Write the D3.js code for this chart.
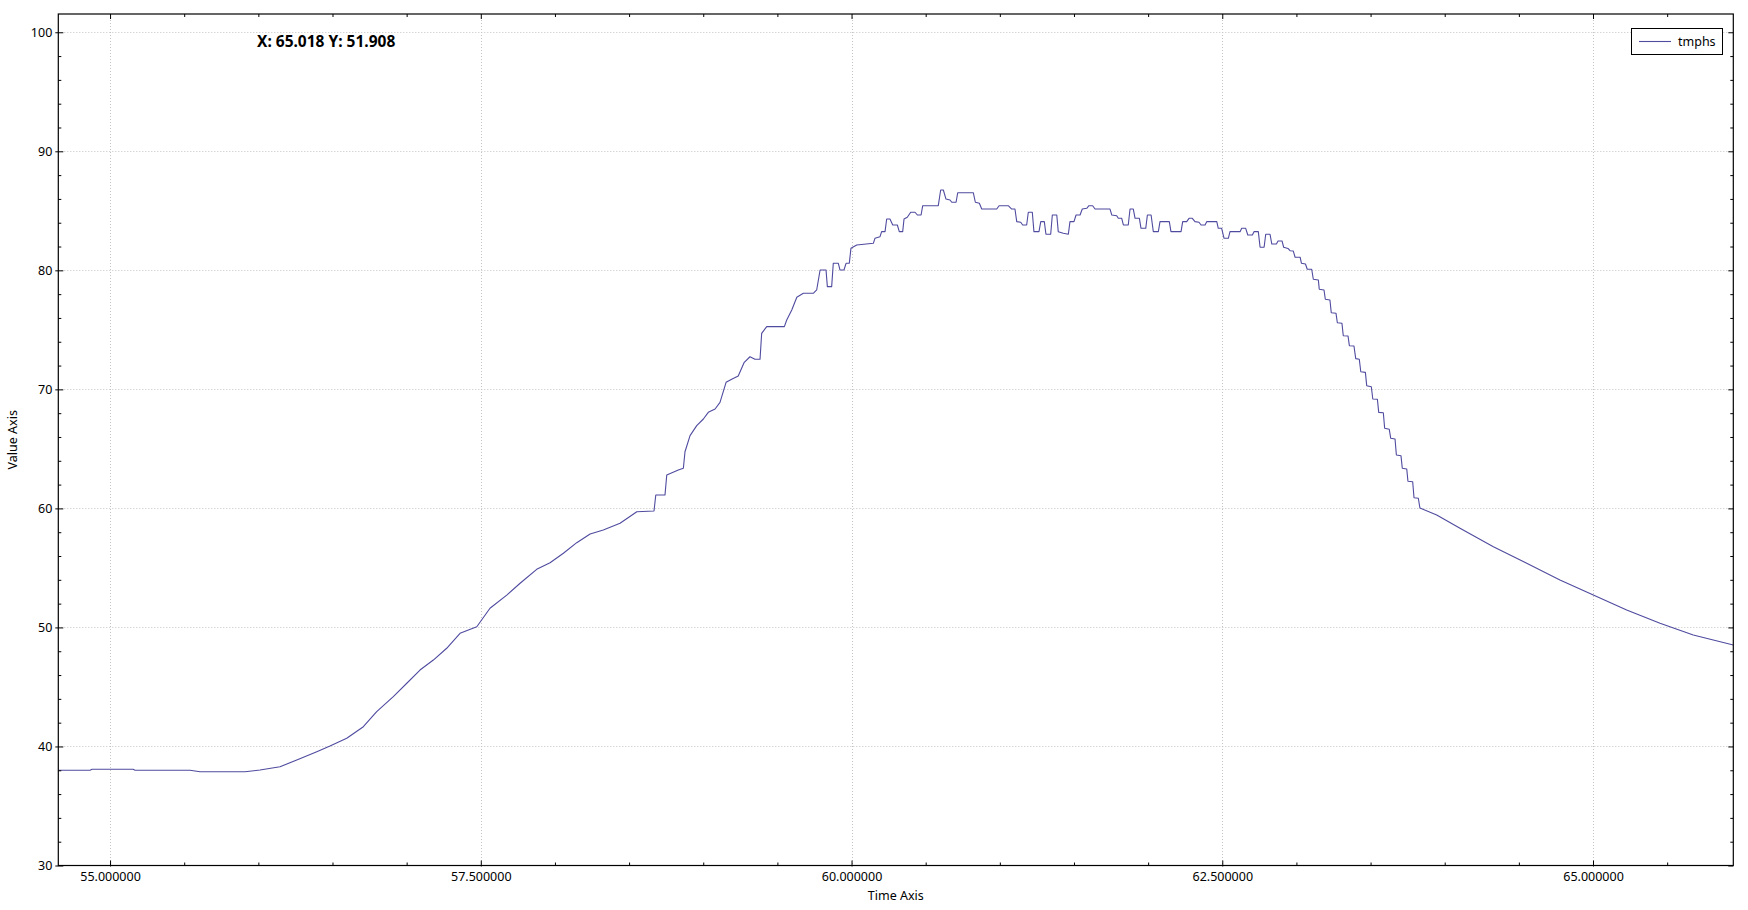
<!DOCTYPE html>
<html>
<head>
<meta charset="utf-8">
<script src="https://cdn.jsdelivr.net/npm/d3@7/dist/d3.min.js"></script>
<style>
  html, body { margin: 0; padding: 0; background: #ffffff; }
  svg { display: block; }
  text { font-family: "Noto Sans", "Open Sans", sans-serif; fill: #000; }
</style>
</head>
<body>
<svg id="chart" width="1748" height="910"></svg>
<script>
// ---- data ----
const seriesName = "tmphs";
const times = [
  54.651, 54.865, 54.879, 55.155, 55.169, 55.539, 55.607, 55.910, 56.011, 56.146,
  56.259, 56.394, 56.483, 56.596, 56.708, 56.798, 56.910, 57.001, 57.090, 57.180,
  57.270, 57.360, 57.473, 57.562, 57.675, 57.765, 57.877, 57.967, 58.057, 58.147,
  58.237, 58.326, 58.439, 58.552, 58.668, 58.680, 58.742, 58.754, 58.832, 58.866,
  58.877, 58.911, 58.956, 59.001, 59.034, 59.080, 59.113, 59.154, 59.192, 59.236,
  59.275, 59.315, 59.349, 59.383, 59.394, 59.428, 59.547, 59.563, 59.597, 59.631,
  59.675, 59.742, 59.765, 59.788, 59.828, 59.837, 59.866, 59.877, 59.911, 59.922,
  59.949, 59.963, 59.985, 59.996, 60.035, 60.147, 60.158, 60.192, 60.203, 60.226,
  60.237, 60.259, 60.278, 60.309, 60.322, 60.345, 60.354, 60.376, 60.399, 60.428,
  60.444, 60.469, 60.480, 60.585, 60.601, 60.619, 60.637, 60.664, 60.676, 60.705,
  60.716, 60.821, 60.835, 60.862, 60.878, 60.979, 60.995, 61.057, 61.080, 61.102,
  61.114, 61.141, 61.154, 61.181, 61.192, 61.219, 61.230, 61.264, 61.276, 61.300,
  61.311, 61.343, 61.354, 61.384, 61.394, 61.428, 61.462, 61.473, 61.500, 61.514,
  61.541, 61.556, 61.586, 61.601, 61.626, 61.642, 61.743, 61.755, 61.788, 61.799,
  61.822, 61.833, 61.866, 61.878, 61.900, 61.912, 61.941, 61.952, 61.984, 61.995,
  62.020, 62.035, 62.069, 62.080, 62.143, 62.154, 62.222, 62.233, 62.260, 62.276,
  62.298, 62.316, 62.343, 62.357, 62.384, 62.395, 62.463, 62.473, 62.496, 62.512,
  62.541, 62.552, 62.620, 62.631, 62.658, 62.672, 62.703, 62.714, 62.743, 62.755,
  62.782, 62.793, 62.822, 62.834, 62.865, 62.876, 62.903, 62.914, 62.943, 62.957,
  62.979, 62.991, 63.025, 63.034, 63.061, 63.073, 63.103, 63.114, 63.148, 63.154,
  63.186, 63.195, 63.226, 63.235, 63.267, 63.276, 63.307, 63.316, 63.348, 63.357,
  63.388, 63.400, 63.424, 63.434, 63.465, 63.474, 63.505, 63.515, 63.546, 63.555,
  63.586, 63.595, 63.626, 63.636, 63.665, 63.674, 63.705, 63.714, 63.744, 63.752,
  63.784, 63.793, 63.822, 63.833, 63.946, 64.103, 64.328, 64.553, 64.777, 65.002,
  65.227, 65.452, 65.676, 65.946
];
const values = [
  38.00, 38.00, 38.08, 38.08, 38.00, 38.00, 37.88, 37.88, 38.02, 38.30,
  38.86, 39.56, 40.04, 40.69, 41.66, 42.92, 44.18, 45.31, 46.42, 47.26,
  48.25, 49.51, 50.06, 51.61, 52.72, 53.71, 54.88, 55.44, 56.23, 57.12,
  57.85, 58.19, 58.75, 59.72, 59.78, 61.13, 61.13, 62.81, 63.23, 63.37,
  64.76, 66.11, 66.95, 67.51, 68.07, 68.35, 68.91, 70.59, 70.85, 71.12,
  72.24, 72.74, 72.53, 72.53, 74.71, 75.27, 75.27, 75.83, 76.67, 77.74,
  78.07, 78.07, 78.35, 80.03, 80.03, 78.63, 78.63, 80.59, 80.59, 80.03,
  80.03, 80.59, 80.59, 81.85, 82.13, 82.27, 82.69, 82.83, 83.25, 83.25,
  84.31, 84.31, 83.81, 83.81, 83.25, 83.25, 84.31, 84.46, 84.88, 84.88,
  84.65, 84.65, 85.43, 85.43, 86.75, 86.75, 85.99, 85.91, 85.72, 85.72,
  86.52, 86.52, 85.72, 85.63, 85.15, 85.15, 85.43, 85.43, 85.15, 85.15,
  84.09, 84.04, 83.81, 83.81, 84.88, 84.88, 83.25, 83.25, 84.09, 84.09,
  83.03, 83.03, 84.65, 84.65, 83.25, 83.11, 83.03, 84.09, 84.09, 84.65,
  84.65, 85.15, 85.21, 85.43, 85.43, 85.15, 85.15, 84.65, 84.59, 84.37,
  84.37, 83.81, 83.81, 85.15, 85.15, 84.37, 84.37, 83.53, 83.53, 84.65,
  84.65, 83.25, 83.25, 84.09, 84.09, 83.25, 83.25, 84.09, 84.09, 84.37,
  84.37, 84.09, 84.04, 83.81, 83.81, 84.09, 84.09, 83.53, 83.53, 82.69,
  82.69, 83.25, 83.25, 83.53, 83.53, 82.97, 82.97, 83.25, 83.25, 81.94,
  81.94, 83.03, 83.03, 82.21, 82.21, 82.47, 82.47, 81.94, 81.84, 81.65,
  81.62, 81.10, 81.10, 80.59, 80.53, 80.09, 80.09, 79.25, 79.19, 78.41,
  78.35, 77.57, 77.51, 76.44, 76.39, 75.60, 75.55, 74.51, 74.48, 73.67,
  73.64, 72.58, 72.53, 71.48, 71.43, 70.31, 70.22, 69.19, 69.17, 68.07,
  68.04, 66.73, 66.65, 65.89, 65.83, 64.49, 64.43, 63.37, 63.31, 62.28,
  62.24, 60.90, 60.85, 60.03, 59.45, 58.33, 56.78, 55.39, 53.99, 52.73,
  51.47, 50.35, 49.36, 48.52
];
const xDomain = [54.651, 65.946];
const yDomain = [30, 101.535];
const xMajorTicks = [55, 57.5, 60, 62.5, 65];
const yMajorTicks = [30, 40, 50, 60, 70, 80, 90, 100];
const xMinorStep = 0.5;
const yMinorStep = 2;
const xTitle = "Time Axis";
const yTitle = "Value Axis";
const cursorText = "X: 65.018 Y: 51.908";

// ---- layout ----
const svg = d3.select("#chart");
const L = 58.3, R = 1733.3, T = 14, B = 865.5;
const x = d3.scaleLinear().domain(xDomain).range([L, R]);
const y = d3.scaleLinear().domain(yDomain).range([B, T]);
const lineColor = "#4f4b9f";

const xMinor = d3.range(Math.ceil(xDomain[0] / xMinorStep) * xMinorStep, xDomain[1] + 1e-9, xMinorStep)
  .filter(v => !xMajorTicks.some(m => Math.abs(m - v) < 1e-9));
const yMinor = d3.range(Math.ceil(yDomain[0] / yMinorStep) * yMinorStep, yDomain[1] + 1e-9, yMinorStep)
  .filter(v => !yMajorTicks.some(m => Math.abs(m - v) < 1e-9));

// grid
const grid = svg.append("g");
grid.selectAll("line.gx").data(xMajorTicks).enter().append("line")
  .attr("x1", d => Math.round(x(d)) + 0.5).attr("x2", d => Math.round(x(d)) + 0.5)
  .attr("y1", T).attr("y2", B)
  .attr("stroke", "#c4c4c4").attr("stroke-width", 1).attr("stroke-dasharray", "1,2");
grid.selectAll("line.gy").data(yMajorTicks.filter(v => v > yDomain[0])).enter().append("line")
  .attr("x1", L).attr("x2", R)
  .attr("y1", d => Math.round(y(d)) + 0.5).attr("y2", d => Math.round(y(d)) + 0.5)
  .attr("stroke", "#c4c4c4").attr("stroke-width", 1).attr("stroke-dasharray", "1,2");

// clip
svg.append("clipPath").attr("id", "clip").append("rect")
  .attr("x", L).attr("y", T).attr("width", R - L).attr("height", B - T);

// series line
const pts = times.map((t, i) => [t, values[i]]);
svg.append("path")
  .datum(pts)
  .attr("clip-path", "url(#clip)")
  .attr("fill", "none")
  .attr("stroke", lineColor)
  .attr("stroke-width", 1.1)
  .attr("stroke-linejoin", "round")
  .attr("d", d3.line().x(d => x(d[0])).y(d => y(d[1])).curve(d3.curveLinear));

// axes using d3 axis generators
const fontFam = '"Noto Sans", "Open Sans", sans-serif';
function styleAxis(g) {
  g.select(".domain").remove();
  g.selectAll("line").attr("stroke", "#000");
  g.selectAll("text").attr("font-family", fontFam).attr("font-size", 12.5).attr("fill", "#000");
}

// bottom major (labels) - ticks inward and slightly outward
const xAxisB = svg.append("g").attr("transform", `translate(0,${B})`)
  .call(d3.axisBottom(x).tickValues(xMajorTicks).tickSize(0).tickPadding(7).tickFormat(d3.format(".6f")));
styleAxis(xAxisB);
xAxisB.selectAll(".tick").append("line").attr("y1", -5).attr("y2", 1).attr("stroke", "#000");
svg.append("g").attr("transform", `translate(0,${B})`)
  .call(d3.axisTop(x).tickValues(xMinor).tickSize(3).tickFormat(""))
  .call(styleAxis);

// top ticks (inward)
svg.append("g").attr("transform", `translate(0,${T})`)
  .call(d3.axisBottom(x).tickValues(xMajorTicks).tickSize(5).tickFormat(""))
  .call(styleAxis);
svg.append("g").attr("transform", `translate(0,${T})`)
  .call(d3.axisBottom(x).tickValues(xMinor).tickSize(3).tickFormat(""))
  .call(styleAxis);

// left major (labels)
const yAxisL = svg.append("g").attr("transform", `translate(${L},0)`)
  .call(d3.axisLeft(y).tickValues(yMajorTicks).tickSize(0).tickPadding(6).tickFormat(d3.format("d")));
styleAxis(yAxisL);
yAxisL.selectAll(".tick").append("line").attr("x1", -3).attr("x2", 5).attr("stroke", "#000");
svg.append("g").attr("transform", `translate(${L},0)`)
  .call(d3.axisRight(y).tickValues(yMinor).tickSize(3).tickFormat(""))
  .call(styleAxis);

// right ticks (inward)
svg.append("g").attr("transform", `translate(${R},0)`)
  .call(d3.axisLeft(y).tickValues(yMajorTicks).tickSize(5).tickFormat(""))
  .call(styleAxis);
svg.append("g").attr("transform", `translate(${R},0)`)
  .call(d3.axisLeft(y).tickValues(yMinor).tickSize(3).tickFormat(""))
  .call(styleAxis);

// frame
svg.append("rect").attr("x", L).attr("y", T).attr("width", R - L).attr("height", B - T)
  .attr("fill", "none").attr("stroke", "#000").attr("stroke-width", 1.2);

// axis titles
svg.append("text").attr("x", (L + R) / 2).attr("y", 900)
  .attr("text-anchor", "middle").attr("font-size", 12.5).text(xTitle);
svg.append("text").attr("transform", `translate(17,${(T + B) / 2}) rotate(-90)`)
  .attr("text-anchor", "middle").attr("font-size", 12.5).text(yTitle);

// cursor readout
svg.append("text").attr("x", 257).attr("y", 47)
  .attr("font-size", 15.5).attr("font-weight", "bold").text(cursorText);

// legend
const lg = svg.append("g");
lg.append("rect").attr("x", 1631.5).attr("y", 28.5).attr("width", 91).attr("height", 26)
  .attr("fill", "#fff").attr("stroke", "#000").attr("stroke-width", 1);
lg.append("line").attr("x1", 1639).attr("x2", 1671).attr("y1", 41.5).attr("y2", 41.5)
  .attr("stroke", lineColor).attr("stroke-width", 1.1);
lg.append("text").attr("x", 1678).attr("y", 46).attr("font-size", 12.5).text(seriesName);
</script>
</body>
</html>
